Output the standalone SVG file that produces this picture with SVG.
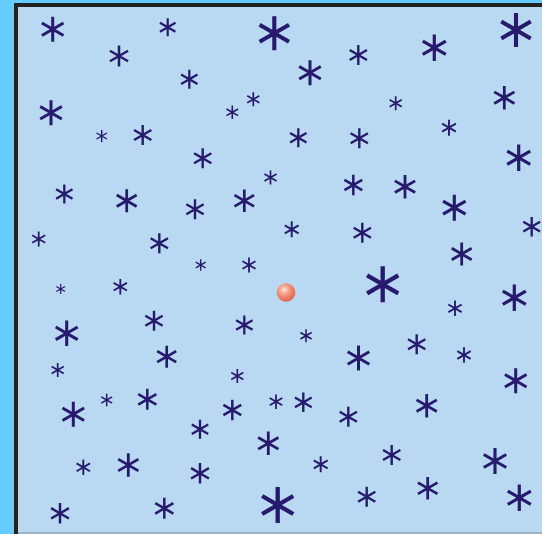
<svg xmlns="http://www.w3.org/2000/svg" xmlns:xlink="http://www.w3.org/1999/xlink" width="542" height="534" viewBox="0 0 542 534">
<style>
.st{fill:none;stroke:#271a6e;stroke-width:0.24;stroke-linecap:butt}
</style>
<defs>
<g id="ast"><path class="st" d="M0,-1V1M-0.866,-0.5L0.866,0.5M-0.866,0.5L0.866,-0.5"/></g>
<radialGradient id="ball" cx="0.4" cy="0.35" r="0.7">
<stop offset="0" stop-color="#ffe6dc"/>
<stop offset="0.35" stop-color="#f7a08a"/>
<stop offset="1" stop-color="#de5a43"/>
</radialGradient>
</defs>
<rect x="0" y="0" width="542" height="534" fill="#66ccff"/>
<rect x="16" y="5" width="540" height="540" fill="#b9d8f1" stroke="#222222" stroke-width="4"/>
<rect x="18" y="532" width="524" height="2" fill="#9bb3c4"/>
<g id="stars">
<use xlink:href="#ast" transform="translate(52.7,29.3) scale(12.5)"/>
<use xlink:href="#ast" transform="translate(167.7,27.3) scale(9)"/>
<use xlink:href="#ast" transform="translate(119,56) scale(10.5)"/>
<use xlink:href="#ast" transform="translate(51,112.7) scale(12.5)"/>
<use xlink:href="#ast" transform="translate(101.7,136) scale(6)"/>
<use xlink:href="#ast" transform="translate(142.7,135) scale(10)"/>
<use xlink:href="#ast" transform="translate(274.3,33.3) scale(17)"/>
<use xlink:href="#ast" transform="translate(310,72.7) scale(12.5)"/>
<use xlink:href="#ast" transform="translate(189.3,79.3) scale(9.5)"/>
<use xlink:href="#ast" transform="translate(253.3,99.3) scale(7)"/>
<use xlink:href="#ast" transform="translate(232.3,112.3) scale(6.7)"/>
<use xlink:href="#ast" transform="translate(298.3,137.7) scale(9.5)"/>
<use xlink:href="#ast" transform="translate(202.7,158.3) scale(10)"/>
<use xlink:href="#ast" transform="translate(270.5,177.5) scale(7)"/>
<use xlink:href="#ast" transform="translate(358.3,55) scale(10)"/>
<use xlink:href="#ast" transform="translate(359.3,138.3) scale(10)"/>
<use xlink:href="#ast" transform="translate(434.3,47.7) scale(13.3)"/>
<use xlink:href="#ast" transform="translate(516,30) scale(17)"/>
<use xlink:href="#ast" transform="translate(395.7,103.3) scale(7)"/>
<use xlink:href="#ast" transform="translate(504.3,97.7) scale(11.7)"/>
<use xlink:href="#ast" transform="translate(449,127.7) scale(8)"/>
<use xlink:href="#ast" transform="translate(518.7,157.7) scale(13.3)"/>
<use xlink:href="#ast" transform="translate(64.3,194) scale(9.5)"/>
<use xlink:href="#ast" transform="translate(126.7,200.7) scale(11.5)"/>
<use xlink:href="#ast" transform="translate(38.7,239) scale(7.5)"/>
<use xlink:href="#ast" transform="translate(159.3,243.3) scale(10)"/>
<use xlink:href="#ast" transform="translate(60.7,289) scale(5)"/>
<use xlink:href="#ast" transform="translate(120.3,286.7) scale(7.7)"/>
<use xlink:href="#ast" transform="translate(66.7,333.3) scale(12.7)"/>
<use xlink:href="#ast" transform="translate(154,320.7) scale(10)"/>
<use xlink:href="#ast" transform="translate(166.7,356.7) scale(11)"/>
<use xlink:href="#ast" transform="translate(244.3,200.7) scale(11.3)"/>
<use xlink:href="#ast" transform="translate(195,209.3) scale(10)"/>
<use xlink:href="#ast" transform="translate(353.3,185) scale(10.3)"/>
<use xlink:href="#ast" transform="translate(405,186.7) scale(11.7)"/>
<use xlink:href="#ast" transform="translate(291.7,229.3) scale(8)"/>
<use xlink:href="#ast" transform="translate(362.3,232.7) scale(10)"/>
<use xlink:href="#ast" transform="translate(200.7,265) scale(5.7)"/>
<use xlink:href="#ast" transform="translate(249,265) scale(7.5)"/>
<use xlink:href="#ast" transform="translate(244.3,325) scale(9.5)"/>
<use xlink:href="#ast" transform="translate(306,335.7) scale(6.5)"/>
<use xlink:href="#ast" transform="translate(454.3,207.7) scale(13)"/>
<use xlink:href="#ast" transform="translate(531.7,226.7) scale(9.7)"/>
<use xlink:href="#ast" transform="translate(461.7,254) scale(11.5)"/>
<use xlink:href="#ast" transform="translate(382.7,284.3) scale(18)"/>
<use xlink:href="#ast" transform="translate(514.3,297.7) scale(13.3)"/>
<use xlink:href="#ast" transform="translate(455,308.3) scale(7.7)"/>
<use xlink:href="#ast" transform="translate(416.7,344.3) scale(10)"/>
<use xlink:href="#ast" transform="translate(464,355) scale(7.7)"/>
<use xlink:href="#ast" transform="translate(358.5,358) scale(12.5)"/>
<use xlink:href="#ast" transform="translate(57.7,370) scale(7)"/>
<use xlink:href="#ast" transform="translate(73.3,414.3) scale(12.5)"/>
<use xlink:href="#ast" transform="translate(106.7,400) scale(6.3)"/>
<use xlink:href="#ast" transform="translate(147.3,399.3) scale(10.5)"/>
<use xlink:href="#ast" transform="translate(83.3,467.3) scale(7.8)"/>
<use xlink:href="#ast" transform="translate(128.3,465) scale(11.7)"/>
<use xlink:href="#ast" transform="translate(60,513.3) scale(10.3)"/>
<use xlink:href="#ast" transform="translate(164.3,508.3) scale(10.5)"/>
<use xlink:href="#ast" transform="translate(237.3,376) scale(7)"/>
<use xlink:href="#ast" transform="translate(232.3,410) scale(10.3)"/>
<use xlink:href="#ast" transform="translate(276,401.7) scale(7.3)"/>
<use xlink:href="#ast" transform="translate(303.3,402.3) scale(9.7)"/>
<use xlink:href="#ast" transform="translate(348.3,416.7) scale(10)"/>
<use xlink:href="#ast" transform="translate(200,429.3) scale(9.5)"/>
<use xlink:href="#ast" transform="translate(268.3,443.3) scale(11.7)"/>
<use xlink:href="#ast" transform="translate(200,473.3) scale(10.3)"/>
<use xlink:href="#ast" transform="translate(320.7,464.3) scale(8)"/>
<use xlink:href="#ast" transform="translate(277.7,505) scale(18)"/>
<use xlink:href="#ast" transform="translate(515.7,380.7) scale(12.5)"/>
<use xlink:href="#ast" transform="translate(426.7,405.7) scale(11.7)"/>
<use xlink:href="#ast" transform="translate(391.7,455) scale(10)"/>
<use xlink:href="#ast" transform="translate(495,461) scale(13)"/>
<use xlink:href="#ast" transform="translate(427.7,488.3) scale(11.3)"/>
<use xlink:href="#ast" transform="translate(519.3,497.7) scale(13.3)"/>
<use xlink:href="#ast" transform="translate(366.7,496.7) scale(10)"/>
</g>
<g id="ball-node">
<circle cx="286" cy="292.5" r="9.3" fill="url(#ball)"/>
</g>
</svg>
